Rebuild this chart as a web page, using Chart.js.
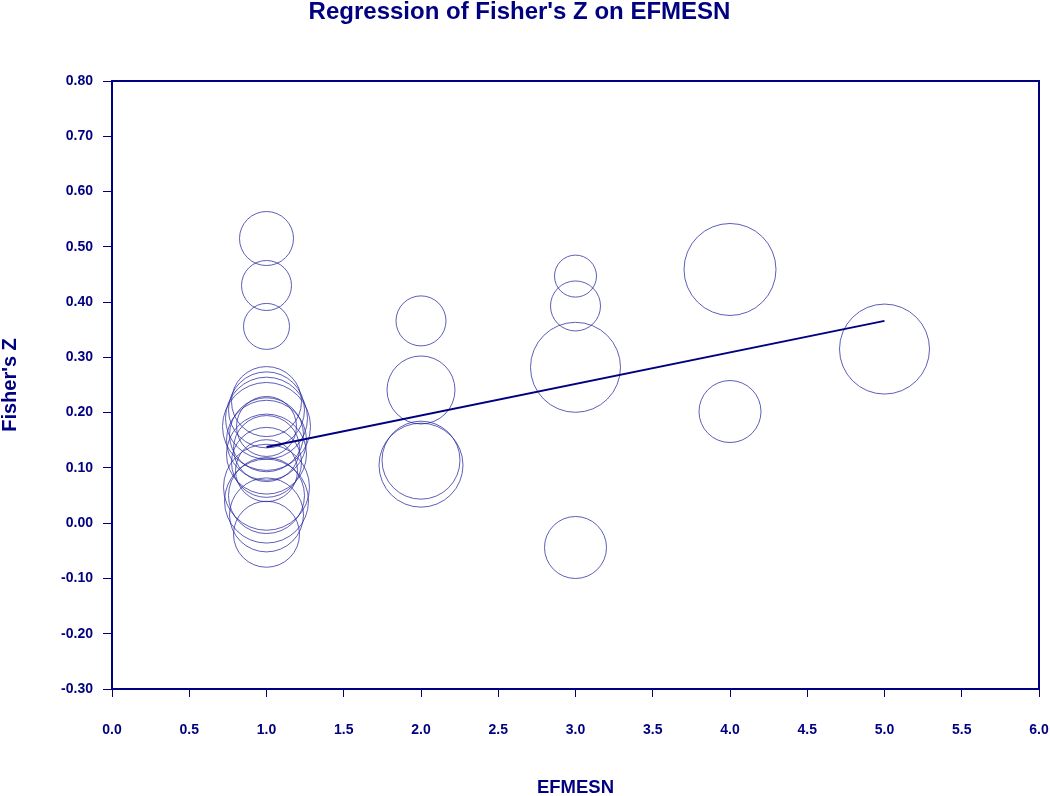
<!DOCTYPE html>
<html>
<head>
<meta charset="utf-8">
<title>Regression of Fisher's Z on EFMESN</title>
<script src="https://cdn.jsdelivr.net/npm/chart.js@4/dist/chart.umd.min.js"></script>
<style>
  html, body { margin: 0; padding: 0; background: #fff; }
  #wrap { width: 1050px; height: 796px; }
</style>
</head>
<body>
<div id="wrap"><canvas id="chart-regression" width="1050" height="796"></canvas></div>
<script>
// ---- Data ----

// One entry per study: moderator value, Fisher's Z, bubble size (study weight)
const STUDY_EFMESN = [
  1, 1, 1,
  1, 1, 1, 1, 1, 1, 1, 1, 1, 1, 1, 1, 1, 1, 1, 1,
  2, 2, 2, 2,
  3, 3, 3, 3,
  4, 4,
  5,
];
const STUDY_Z = [
  0.515, 0.430, 0.356,
  0.220, 0.205, 0.190, 0.175, 0.175, 0.160, 0.150, 0.135, 0.125, 0.110, 0.095, 0.065, 0.050, 0.040, 0.015, -0.020,
  0.366, 0.241, 0.114, 0.105,
  0.447, 0.393, 0.282, -0.044,
  0.459, 0.202,
  0.315,
];
const STUDY_SIZE = [
  27, 25, 23,
  35, 38, 41, 44, 30, 37, 40, 33, 40, 35, 31, 43, 38, 42, 37, 33,
  25, 34, 39, 42,
  21, 25, 45, 31,
  46, 31,
  45,
];

// Fitted regression line (end points)
const REG_EFMESN = [1, 5];
const REG_Z = [0.138, 0.366];

// Axis ranges / ticks
const X_MIN = 0, X_MAX = 6, X_STEP = 0.5;
const Y_MIN = -0.3, Y_MAX = 0.8, Y_STEP = 0.1;

// ---- Styles ----
const NAVY = '#000080';
const BUBBLE_LINE = 'rgba(40, 40, 160, 0.75)';

Chart.defaults.font.family = "'Liberation Sans', Arial, sans-serif";

// draws the frame round the plot area (top and right sides included)
const frameBox = {
  id: 'frameBox',
  afterDraw(chart) {
    const { ctx, chartArea: a } = chart;
    ctx.save();
    ctx.strokeStyle = NAVY;
    ctx.lineWidth = 2;
    ctx.strokeRect(a.left, a.top, a.right - a.left, a.bottom - a.top);
    ctx.restore();
  },
};

function buildChart() {
  const bubbles = STUDY_EFMESN.map((x, i) => ({ x, y: STUDY_Z[i], r: STUDY_SIZE[i] }));
  const regLine = REG_EFMESN.map((x, i) => ({ x, y: REG_Z[i] }));

  const tickFont = { size: 14, weight: 'bold' };

  new Chart(document.getElementById('chart-regression'), {
    type: 'bubble',
    data: {
      datasets: [
        {
          type: 'line',
          label: 'Regression',
          data: regLine,
          borderColor: NAVY,
          borderWidth: 2,
          pointRadius: 0,
          fill: false,
          order: 0,
        },
        {
          label: 'Studies',
          data: bubbles,
          backgroundColor: 'transparent',
          borderColor: BUBBLE_LINE,
          borderWidth: 1,
          order: 1,
        },
      ],
    },
    options: {
      responsive: false,
      animation: false,
      // bubbles would otherwise widen the padding on the right
      layout: { autoPadding: false, padding: { top: 0, right: 11, bottom: 0, left: 0 } },
      plugins: {
        legend: { display: false },
        tooltip: { enabled: false },
        title: {
          display: true,
          text: "Regression of Fisher's Z on EFMESN",
          color: NAVY,
          font: { size: 24, weight: 'bold', lineHeight: 1 },
          padding: { top: 0, bottom: 57 },
        },
      },
      scales: {
        x: {
          type: 'linear',
          position: 'bottom',
          min: X_MIN,
          max: X_MAX,
          ticks: {
            stepSize: X_STEP,
            color: NAVY,
            font: tickFont,
            padding: 25,
            maxRotation: 0,
            autoSkip: false,
            callback: v => Number(v).toFixed(1),
          },
          grid: { drawOnChartArea: false, drawTicks: true, tickLength: 8, color: NAVY },
          border: { display: true, color: NAVY, width: 2 },
          title: {
            display: true,
            text: 'EFMESN',
            color: NAVY,
            font: { size: 18.5, weight: 'bold', lineHeight: 1 },
            padding: { top: 0, bottom: -1 },
          },
          // fixed axis height; tick padding must not push the plot edges in
          afterFit: s => { s.height = 107; s.paddingLeft = 0; s.paddingRight = 0; },
        },
        y: {
          type: 'linear',
          min: Y_MIN,
          max: Y_MAX,
          ticks: {
            stepSize: Y_STEP,
            color: NAVY,
            font: tickFont,
            padding: 10,
            callback: v => Number(v).toFixed(2),
          },
          grid: { drawOnChartArea: false, drawTicks: true, tickLength: 9, color: NAVY },
          border: { display: true, color: NAVY, width: 2 },
          title: {
            display: true,
            text: "Fisher's Z",
            color: NAVY,
            font: { size: 20, weight: 'bold', lineHeight: 1 },
            padding: { top: 0, bottom: 0 },
          },
          afterFit: s => { s.width = 112; s.paddingTop = 0; s.paddingBottom = 0; },
        },
      },
    },
    plugins: [frameBox],
  });
}

buildChart();
</script>
</body>
</html>
